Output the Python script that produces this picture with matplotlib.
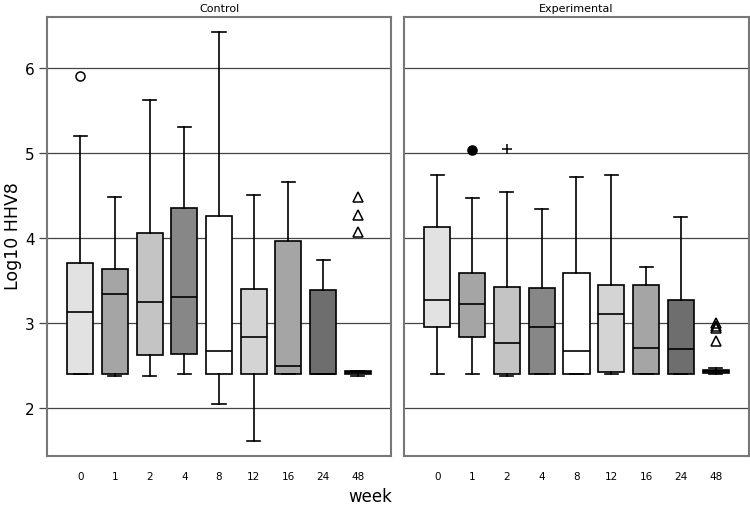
import matplotlib
matplotlib.use("Agg")
import matplotlib.pyplot as plt

weeks = ["0", "1", "2", "4", "8", "12", "16", "24", "48"]
fills = ["#e2e2e2", "#a5a5a5", "#c4c4c4", "#878787", "#ffffff",
         "#d4d4d4", "#a5a5a5", "#6e6e6e", "#3a3a3a"]

# Control group: whislo, q1, median, q3, whishi
ctrl_whislo = [2.40, 2.38, 2.38, 2.40, 2.05, 1.61, 2.40, 2.40, 2.38]
ctrl_q1     = [2.40, 2.40, 2.62, 2.63, 2.40, 2.40, 2.40, 2.40, 2.40]
ctrl_med    = [3.13, 3.34, 3.25, 3.30, 2.67, 2.84, 2.49, 2.40, 2.42]
ctrl_q3     = [3.70, 3.63, 4.06, 4.35, 4.26, 3.40, 3.96, 3.39, 2.44]
ctrl_whishi = [5.20, 4.48, 5.62, 5.31, 6.42, 4.51, 4.66, 3.74, 2.44]
ctrl_out    = [[5.90], [], [], [], [], [], [], [], [4.48, 4.27, 4.07]]

# Experimental group
exp_whislo = [2.40, 2.40, 2.38, 2.40, 2.40, 2.40, 2.40, 2.40, 2.40]
exp_q1     = [2.95, 2.84, 2.40, 2.40, 2.40, 2.42, 2.40, 2.40, 2.41]
exp_med    = [3.27, 3.22, 2.76, 2.95, 2.67, 3.10, 2.71, 2.69, 2.43]
exp_q3     = [4.13, 3.59, 3.42, 3.41, 3.59, 3.45, 3.45, 3.27, 2.45]
exp_whishi = [4.74, 4.47, 4.54, 4.34, 4.72, 4.74, 3.66, 4.25, 2.47]
exp_out    = [[], [5.04], [5.05], [], [], [], [], [], [3.00, 2.97, 2.94, 2.79]]

ctrl_markers = ["o", None, None, None, None, None, None, None, "^"]
exp_markers = [None, "o", "+", None, None, None, None, None, "^"]
exp_filled = [False, True, False, False, False, False, False, False, False]

fig = plt.figure(figsize=(7.5, 5.06), dpi=100)
W, H = 750, 506
axL = fig.add_axes([47 / W, 1 - 457 / H, 344 / W, 439 / H])
axR = fig.add_axes([404 / W, 1 - 457 / H, 345 / W, 439 / H])


def draw(ax, wlo, q1, med, q3, whi, outs, markers, filled):
    stats = []
    for i in range(len(weeks)):
        stats.append(dict(whislo=wlo[i], q1=q1[i], med=med[i], q3=q3[i],
                          whishi=whi[i], fliers=[]))
    pos = list(range(len(weeks)))
    bp = ax.bxp(stats, positions=pos, widths=0.75, patch_artist=True,
                showfliers=False,
                boxprops=dict(edgecolor="black", linewidth=1.2),
                medianprops=dict(color="black", linewidth=1.2),
                whiskerprops=dict(color="black", linewidth=1.2),
                capprops=dict(color="black", linewidth=1.2), zorder=3)
    for patch, c in zip(bp["boxes"], fills):
        patch.set_facecolor(c)
    for i, vals in enumerate(outs):
        if not vals:
            continue
        m = markers[i]
        fc = "black" if filled[i] else "none"
        ax.plot([pos[i]] * len(vals), vals, linestyle="none", marker=m,
                markersize=6.5, markerfacecolor=fc,
                markeredgecolor="black", markeredgewidth=1.1, zorder=4)
    ax.set_xlim(-0.96, 8.96)
    ax.set_ylim(1.435, 6.6)
    ax.set_yticks([2, 3, 4, 5, 6])
    ax.yaxis.grid(True, color="#444444", linewidth=0.9, zorder=0)
    ax.set_axisbelow(True)
    ax.set_xticks(pos)
    ax.set_xticklabels(weeks, fontsize=7.5)
    ax.tick_params(axis="x", length=0, pad=11)
    for s in ax.spines.values():
        s.set_color("#777777")
        s.set_linewidth(1.5)


draw(axL, ctrl_whislo, ctrl_q1, ctrl_med, ctrl_q3, ctrl_whishi, ctrl_out,
     ctrl_markers, [False] * 9)
draw(axR, exp_whislo, exp_q1, exp_med, exp_q3, exp_whishi, exp_out,
     exp_markers, exp_filled)

axL.tick_params(axis="y", length=6, width=0.9, color="#444444",
                labelsize=11, pad=3)
axR.tick_params(axis="y", length=0, labelleft=False)

axL.set_title("Control", fontsize=8, pad=4)
axR.set_title("Experimental", fontsize=8, pad=4)
fig.text(13 / W, 1 - 236 / H, "Log10 HHV8", fontsize=12.5, rotation=90,
         ha="center", va="center")
fig.text(370 / W, 1 - 497 / H, "week", fontsize=12, ha="center", va="center")

fig.savefig("out.png", dpi=100)
